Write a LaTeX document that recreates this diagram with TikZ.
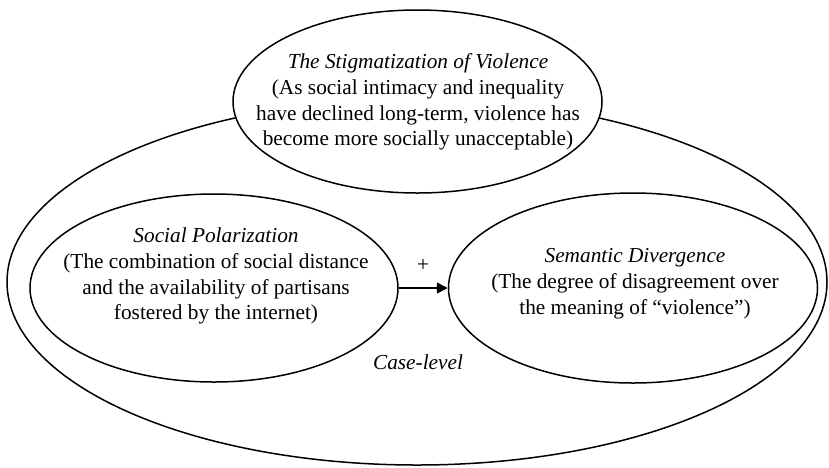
\documentclass[tikz,border=0pt]{standalone}
\usepackage{fontspec}
\setmainfont{Liberation Serif}
\usetikzlibrary{shapes.geometric,arrows.meta}
\begin{document}
\begin{tikzpicture}[x=1pt,y=-1pt,
  ell/.style={draw=black, line width=1.5pt, fill=white, ellipse, inner sep=0pt},
  txt/.style={align=center, font=\fontsize{21.3}{25.8}\selectfont, inner sep=0pt},
  conn/.style={line width=1.5pt, -{Triangle[length=11pt,width=11pt]}}]
\useasboundingbox (0,0) rectangle (829,467);
% case-level ellipse
\node[ell, minimum width=820, minimum height=366] (case) at (417,282) {};
% top ellipse
\node[ell, minimum width=369, minimum height=183] (stig) at (417.5,101.5) {};
\node[txt] (stigtext) at (418,102) {\textit{The Stigmatization of Violence}\\(As social intimacy and inequality\\have declined long-term, violence has\\become more socially unacceptable)};
% left ellipse
\node[ell, minimum width=368, minimum height=188] (pol) at (214,288) {};
\node[txt] (poltext) at (216,276) {\textit{Social Polarization}\\(The combination of social distance\\and the availability of partisans\\fostered by the internet)};
% right ellipse
\node[ell, minimum width=369, minimum height=190] (sem) at (633,288) {};
\node[txt] (semtext) at (635,284) {\textit{Semantic Divergence}\\(The degree of disagreement over\\the meaning of “violence”)};
% connector
\draw[conn] (pol.east) -- (sem.west);
\node[txt] (plus) at (423,265) {+};
\node[txt] (caselabel) at (418,362) {\textit{Case-level}};
\end{tikzpicture}
\end{document}
